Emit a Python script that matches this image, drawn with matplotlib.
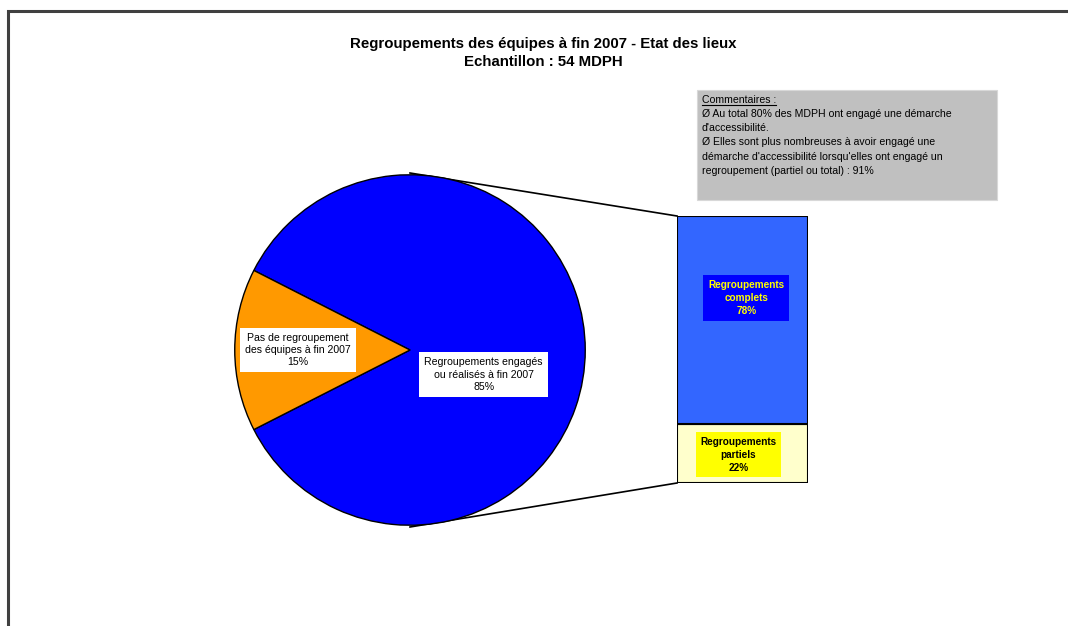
import numpy as np
import matplotlib
matplotlib.use("Agg")
import matplotlib.pyplot as plt
from matplotlib.patches import Rectangle

plt.rcParams['font.family'] = ['Liberation Sans', 'DejaVu Sans']

# Pie: share of MDPH with / without team regrouping at end of 2007
pie_labels = ["Regroupements engagés\nou réalisés à fin 2007",
              "Pas de regroupement\ndes équipes à fin 2007"]
pie_values = [85, 15]
pie_colors = ["#0000FF", "#FF9900"]

# Bar: breakdown of the 85% slice
bar_labels = ["Regroupements\npartiels", "Regroupements\ncomplets"]
bar_values = [22, 78]
bar_colors = ["#FFFFCC", "#3366FF"]

title = "Regroupements des équipes à fin 2007 - Etat des lieux\nEchantillon : 54 MDPH"
comments = ["Ø Au total 80% des MDPH ont engagé une démarche",
            "d'accessibilité.",
            "Ø Elles sont plus nombreuses à avoir engagé une",
            "démarche d'accessibilité lorsqu'elles ont engagé un",
            "regroupement (partiel ou total) : 91%"]

W, H = 1068, 626
fig = plt.figure(figsize=(W / 100, H / 100), dpi=100)

# background layer in pixel units
bg = fig.add_axes([0, 0, 1, 1], zorder=0)
bg.set_xlim(0, W)
bg.set_ylim(H, 0)
bg.axis('off')

# outer frame (runs off the page to the right and bottom)
bg.plot([7.5, 7.5, W + 5], [H + 5, 10.5, 10.5], color="#404040", lw=2.2,
        solid_joinstyle='miter')

bg.text(543, 53, title, ha='center', va='center', fontsize=10.8,
        fontweight='bold', linespacing=1.35)

# comment box
bg.add_patch(Rectangle((697, 90), 300, 110, facecolor="#C0C0C0",
                       edgecolor="#D8D8D8", lw=0.8))
bg.text(702, 100, "Commentaires :", fontsize=7.6, va='center', ha='left')
bg.plot([702, 776], [105, 105], color='black', lw=0.8)
for i, line in enumerate(comments):
    bg.text(702, 114 + i * 14.2, line, fontsize=7.6, va='center', ha='left')

# pie geometry (pixels)
cx, cy, r = 410, 350, 177
# bar geometry (pixels)
bx0, bx1, by0, by1 = 677, 808, 216, 483

# connector lines from the pie to the bar
bg.plot([cx, bx0], [cy - r, by0], color='black', lw=1.2)
bg.plot([cx, bx0], [cy + r, by1], color='black', lw=1.2)

# pie
pax = fig.add_axes([(cx - r) / W, (H - cy - r) / H, 2 * r / W, 2 * r / H],
                   zorder=2)
pax.pie(pie_values, colors=pie_colors, startangle=180 + 0.5 * 360 * pie_values[1] / 100,
        counterclock=True, radius=1,
        wedgeprops=dict(edgecolor='black', linewidth=1.0))
pax.set_xlim(-1.01, 1.01)
pax.set_ylim(-1.01, 1.01)
pax.set_aspect('equal')
pax.axis('off')

box = dict(facecolor='white', edgecolor='none', pad=3.5)
pax.text(-0.64, 0.0, f"{pie_labels[1]}\n{pie_values[1]}%", ha='center',
         va='center', fontsize=7.6, bbox=box, linespacing=1.3)
pax.text(0.42, -0.14, f"{pie_labels[0]}\n{pie_values[0]}%", ha='center',
         va='center', fontsize=7.6, bbox=box, linespacing=1.3)

# stacked bar
bax = fig.add_axes([bx0 / W, (H - by1) / H, (bx1 - bx0) / W, (by1 - by0) / H],
                   zorder=2)
bottom = 0
for val, col in zip(bar_values, bar_colors):
    bax.bar(0, val, width=1, bottom=bottom, color=col, edgecolor='black',
            linewidth=1.5)
    bottom += val
bax.set_xlim(-0.5, 0.5)
bax.set_ylim(0, sum(bar_values))
bax.axis('off')

bax.text(-0.03, bar_values[0] * 0.48, f"{bar_labels[0]}\n{bar_values[0]}%",
         ha='center', va='center', fontsize=7.2, fontweight='bold',
         color='black', linespacing=1.4,
         bbox=dict(facecolor='#FFFF00', edgecolor='none', pad=3))
bax.text(0.03, bar_values[0] + bar_values[1] * 0.605, f"{bar_labels[1]}\n{bar_values[1]}%",
         ha='center', va='center', fontsize=7.2, fontweight='bold',
         color='#FFFF00', linespacing=1.4,
         bbox=dict(facecolor='#0000FF', edgecolor='none', pad=3.5))

fig.savefig("out.png", dpi=100)
